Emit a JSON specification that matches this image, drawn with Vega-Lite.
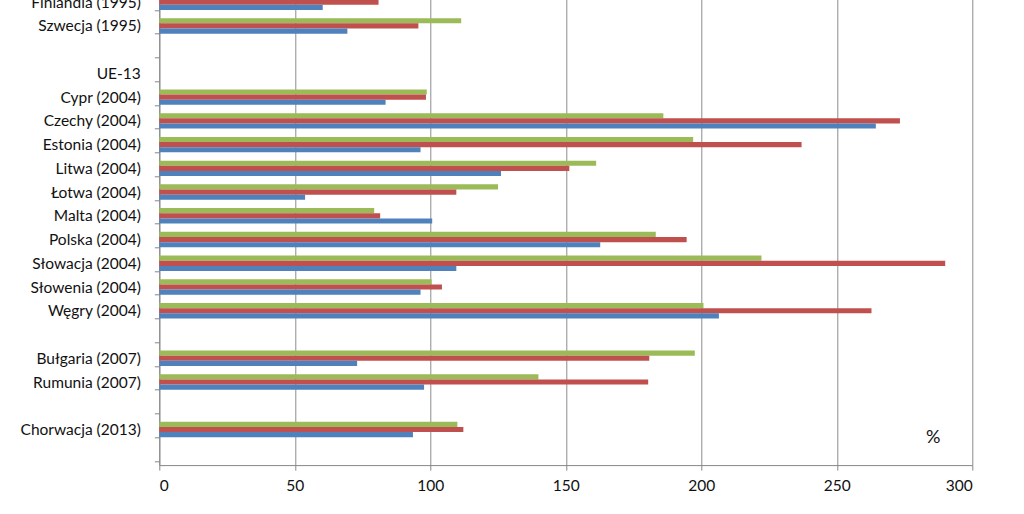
{
  "$schema": "https://vega.github.io/schema/vega-lite/v6.json",
  "width": 813,
  "height": 474.8,
  "autosize": {"type": "none"},
  "padding": {"left": 159.3, "top": -9.7, "right": 51.7, "bottom": 48.9},
  "background": "white",
  "config": {
    "view": {"stroke": null},
    "font": "Lato",
    "axis": {"domainColor": "#868686", "tickColor": "#868686", "labelColor": "#111111", "labelFont": "Lato", "labelFontSize": 15.5, "title": null}
  },
  "datasets": {
    "bars": [
      {"kraj": "Finlandia (1995)", "seria": "seria 3", "wartosc": 95},
      {"kraj": "Finlandia (1995)", "seria": "seria 2", "wartosc": 80.9},
      {"kraj": "Finlandia (1995)", "seria": "seria 1", "wartosc": 60.3},
      {"kraj": "Szwecja (1995)", "seria": "seria 3", "wartosc": 111.4},
      {"kraj": "Szwecja (1995)", "seria": "seria 2", "wartosc": 95.6},
      {"kraj": "Szwecja (1995)", "seria": "seria 1", "wartosc": 69.4},
      {"kraj": "Cypr (2004)", "seria": "seria 3", "wartosc": 98.7},
      {"kraj": "Cypr (2004)", "seria": "seria 2", "wartosc": 98.4},
      {"kraj": "Cypr (2004)", "seria": "seria 1", "wartosc": 83.5},
      {"kraj": "Czechy (2004)", "seria": "seria 3", "wartosc": 186.0},
      {"kraj": "Czechy (2004)", "seria": "seria 2", "wartosc": 273.3},
      {"kraj": "Czechy (2004)", "seria": "seria 1", "wartosc": 264.4},
      {"kraj": "Estonia (2004)", "seria": "seria 3", "wartosc": 197.0},
      {"kraj": "Estonia (2004)", "seria": "seria 2", "wartosc": 237.0},
      {"kraj": "Estonia (2004)", "seria": "seria 1", "wartosc": 96.4},
      {"kraj": "Litwa (2004)", "seria": "seria 3", "wartosc": 161.2},
      {"kraj": "Litwa (2004)", "seria": "seria 2", "wartosc": 151.3},
      {"kraj": "Litwa (2004)", "seria": "seria 1", "wartosc": 126.1},
      {"kraj": "Łotwa (2004)", "seria": "seria 3", "wartosc": 125.0},
      {"kraj": "Łotwa (2004)", "seria": "seria 2", "wartosc": 109.6},
      {"kraj": "Łotwa (2004)", "seria": "seria 1", "wartosc": 53.8},
      {"kraj": "Malta (2004)", "seria": "seria 3", "wartosc": 79.3},
      {"kraj": "Malta (2004)", "seria": "seria 2", "wartosc": 81.5},
      {"kraj": "Malta (2004)", "seria": "seria 1", "wartosc": 100.7},
      {"kraj": "Polska (2004)", "seria": "seria 3", "wartosc": 183.2},
      {"kraj": "Polska (2004)", "seria": "seria 2", "wartosc": 194.6},
      {"kraj": "Polska (2004)", "seria": "seria 1", "wartosc": 162.7},
      {"kraj": "Słowacja (2004)", "seria": "seria 3", "wartosc": 222.2},
      {"kraj": "Słowacja (2004)", "seria": "seria 2", "wartosc": 290.0},
      {"kraj": "Słowacja (2004)", "seria": "seria 1", "wartosc": 109.6},
      {"kraj": "Słowenia (2004)", "seria": "seria 3", "wartosc": 100.5},
      {"kraj": "Słowenia (2004)", "seria": "seria 2", "wartosc": 104.3},
      {"kraj": "Słowenia (2004)", "seria": "seria 1", "wartosc": 96.4},
      {"kraj": "Węgry (2004)", "seria": "seria 3", "wartosc": 200.8},
      {"kraj": "Węgry (2004)", "seria": "seria 2", "wartosc": 262.8},
      {"kraj": "Węgry (2004)", "seria": "seria 1", "wartosc": 206.5},
      {"kraj": "Bułgaria (2007)", "seria": "seria 3", "wartosc": 197.6},
      {"kraj": "Bułgaria (2007)", "seria": "seria 2", "wartosc": 180.8},
      {"kraj": "Bułgaria (2007)", "seria": "seria 1", "wartosc": 73.0},
      {"kraj": "Rumunia (2007)", "seria": "seria 3", "wartosc": 139.9},
      {"kraj": "Rumunia (2007)", "seria": "seria 2", "wartosc": 180.4},
      {"kraj": "Rumunia (2007)", "seria": "seria 1", "wartosc": 97.7},
      {"kraj": "Chorwacja (2013)", "seria": "seria 3", "wartosc": 110.0},
      {"kraj": "Chorwacja (2013)", "seria": "seria 2", "wartosc": 112.2},
      {"kraj": "Chorwacja (2013)", "seria": "seria 1", "wartosc": 93.6}
    ],
    "note": [{"tekst": "%", "x": 285.6, "kraj": "Chorwacja (2013)"}]
  },
  "layer": [
    {
      "data": {"name": "bars"},
      "mark": {"type": "bar"},
      "encoding": {
        "y": {
          "field": "kraj", "type": "nominal",
          "scale": {
            "domain": ["Finlandia (1995)", "Szwecja (1995)", " ", "UE-13", "Cypr (2004)", "Czechy (2004)", "Estonia (2004)", "Litwa (2004)", "Łotwa (2004)", "Malta (2004)", "Polska (2004)", "Słowacja (2004)", "Słowenia (2004)", "Węgry (2004)", "  ", "Bułgaria (2007)", "Rumunia (2007)", "   ", "Chorwacja (2013)", "    "],
            "paddingInner": 0.35, "paddingOuter": 0.175
          },
          "axis": {"tickBand": "extent", "tickSize": 5, "labelPadding": 14, "labelLimit": 0, "grid": false}
        },
        "yOffset": {
          "field": "seria", "type": "nominal",
          "scale": {"domain": ["seria 3", "seria 2", "seria 1"], "paddingInner": 0, "paddingOuter": 0}
        },
        "x": {
          "field": "wartosc", "type": "quantitative",
          "scale": {"domain": [0, 300], "nice": false},
          "axis": {"values": [0, 50, 100, 150, 200, 250, 300], "grid": true, "gridColor": "#8c8c8c", "gridWidth": 1, "tickSize": 5, "labelPadding": 8}
        },
        "color": {
          "field": "seria", "type": "nominal",
          "scale": {"domain": ["seria 1", "seria 2", "seria 3"], "range": ["#4f81bd", "#c0504d", "#9bbb59"]},
          "legend": null
        }
      }
    },
    {
      "data": {"name": "note"},
      "mark": {"type": "text", "fontSize": 18, "color": "#111111", "dy": 9, "baseline": "middle", "align": "center"},
      "encoding": {
        "x": {"field": "x", "type": "quantitative"},
        "y": {"field": "kraj", "type": "nominal"},
        "text": {"field": "tekst"}
      }
    }
  ]
}
